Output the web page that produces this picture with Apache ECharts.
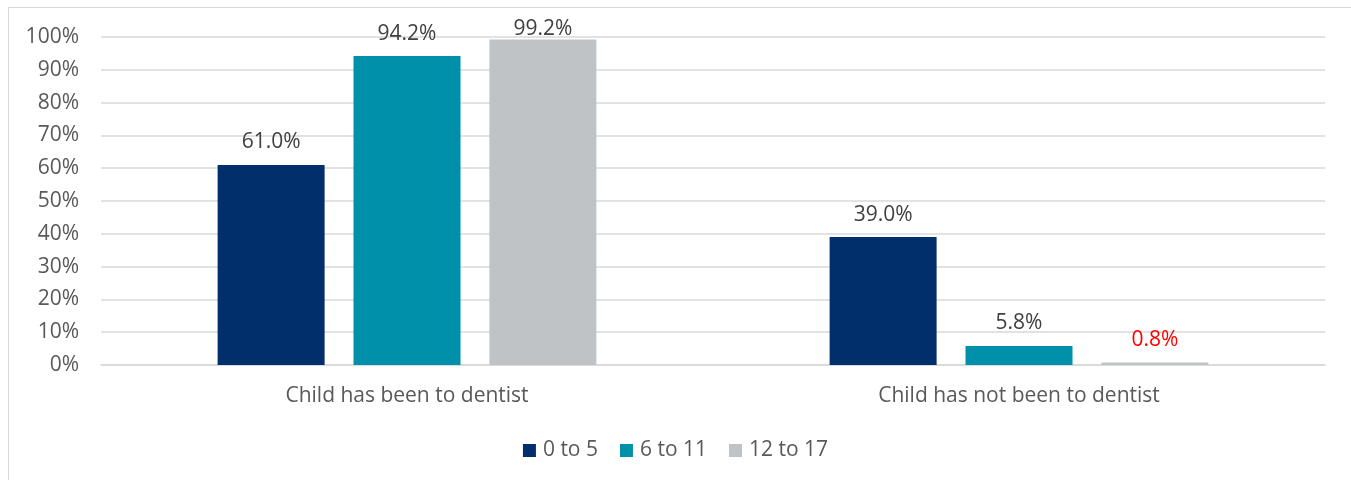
<!DOCTYPE html>
<html>
<head>
<meta charset="utf-8">
<script src="https://cdn.jsdelivr.net/npm/echarts@6/dist/echarts.min.js"></script>
<style>
  html, body { margin: 0; padding: 0; background: #fff; }
  .frame {
    position: absolute;
    left: 8px;
    top: 7px;
    width: 1343px;
    height: 473px;
    border-left: 1px solid #d9d9d9;
    border-top: 1px solid #d9d9d9;
  }
  #chart { position: absolute; left: 0; top: 0; width: 1351px; height: 480px; }
</style>
</head>
<body>
<div class="frame"></div>
<div id="chart"></div>
<script>
const categories = ["Child has been to dentist", "Child has not been to dentist"];
const ageGroups = ["0 to 5", "6 to 11", "12 to 17"];
const age0to5 = [61.0, 39.0];
const age6to11 = [94.2, 5.8];
const age12to17 = [99.2, 0.8];
const yTicks = [0, 10, 20, 30, 40, 50, 60, 70, 80, 90, 100];

const colors = ["#012F6B", "#0090A9", "#C0C3C6"];
const fontFamily = "'Open Sans', sans-serif";
const fontSize = 21;

const chart = echarts.init(document.getElementById("chart"));

// labels of tall bars are squeezed down so they stay in the chart area,
// small values get a red label
const itemLabel = (v) => {
  if (v < 1) return { color: "#FF0000" };
  if (v > 97) return { distance: 0 };
  return undefined;
};

const makeSeries = (name, data, color) => ({
  name,
  type: "bar",
  data: data.map((v) => ({ value: v, label: itemLabel(v) })),
  barWidth: 107,
  barGap: "27%",
  itemStyle: { color },
  label: {
    show: true,
    position: "top",
    distance: 12,
    color: "#404040",
    fontSize,
    fontFamily,
    formatter: (p) => p.value.toFixed(1) + "%",
  },
});

chart.setOption({
  animation: false,
  grid: { left: 101, right: 26, top: 37, bottom: 115 },
  legend: {
    data: ageGroups,
    bottom: 14,
    left: "center",
    icon: "rect",
    itemWidth: 13,
    itemHeight: 13,
    itemGap: 22,
    itemStyle: { borderWidth: 0 },
    textStyle: { color: "#595959", fontSize, fontFamily, padding: [0, 0, 0, 2] },
  },
  xAxis: {
    type: "category",
    data: categories,
    axisTick: { show: false },
    axisLine: { lineStyle: { color: "#D9D9D9", width: 1.5 } },
    axisLabel: { color: "#595959", fontSize, fontFamily, margin: 21 },
  },
  yAxis: {
    type: "value",
    min: yTicks[0],
    max: yTicks[yTicks.length - 1],
    interval: 10,
    axisLine: { show: false },
    axisTick: { show: false },
    splitLine: { lineStyle: { color: "#D9D9D9", width: 1.5 } },
    axisLabel: {
      color: "#595959",
      fontSize,
      fontFamily,
      margin: 22,
      formatter: "{value}%",
    },
  },
  series: [
    makeSeries(ageGroups[0], age0to5, colors[0]),
    makeSeries(ageGroups[1], age6to11, colors[1]),
    makeSeries(ageGroups[2], age12to17, colors[2]),
  ],
});
</script>
</body>
</html>
